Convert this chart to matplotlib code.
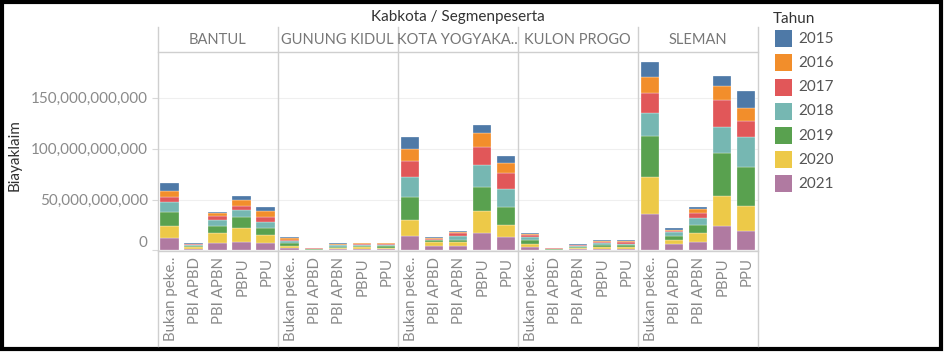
import matplotlib
matplotlib.use("Agg")
import matplotlib.pyplot as plt
from matplotlib.patches import Rectangle
from matplotlib.lines import Line2D

plt.rcParams['font.family'] = ['Lato', 'DejaVu Sans']

# data (billions of rupiah), order: kabkota x segmen
kabkota = ['BANTUL', 'GUNUNG KIDUL', 'KOTA YOGYAKA..', 'KULON PROGO', 'SLEMAN']
segmen = ['Bukan peke..', 'PBI APBD', 'PBI APBN', 'PBPU', 'PPU']
tahun = ['2015', '2016', '2017', '2018', '2019', '2020', '2021']

y2021 = [12.5, 1.5, 6.9, 8.8, 6.9,   2.5, 0.4, 1.2, 1.5, 1.5,   14.0, 4.0, 4.0, 17.3, 13.0,
         3.0, 0.5, 1.2, 1.8, 1.8,   35.9, 5.9, 8.2, 23.8, 19.6]
y2020 = [11.5, 1.5, 9.8, 13.0, 8.5,  2.0, 0.4, 1.2, 1.5, 1.4,   16.3, 4.0, 4.3, 21.6, 12.0,
         3.0, 0.4, 1.2, 1.5, 1.5,   36.3, 3.9, 9.1, 30.0, 24.5]
y2019 = [13.5, 1.5, 7.2, 11.4, 6.5,  2.5, 0.8, 1.5, 1.5, 1.5,   22.5, 2.0, 1.5, 23.5, 18.0,
         4.3, 0.7, 1.2, 2.5, 2.3,   40.5, 4.2, 7.5, 41.5, 38.2]
y2018 = [9.6, 1.0, 5.6, 6.5, 6.2,    2.0, 0.3, 1.0, 1.0, 1.1,   18.9, 0.5, 4.5, 21.2, 17.0,
         3.0, 0.3, 0.8, 1.2, 1.2,   22.5, 3.9, 7.5, 26.1, 29.4]
y2017 = [5.5, 0.7, 4.2, 4.2, 4.6,    1.5, 0.3, 0.6, 0.8, 0.8,   16.3, 0.5, 2.5, 18.3, 16.3,
         1.8, 0.5, 0.6, 1.2, 1.4,   19.3, 1.6, 4.6, 26.5, 15.7]
y2016 = [6.1, 0.6, 3.3, 5.6, 6.2,    1.5, 0.3, 0.6, 0.8, 0.8,   11.8, 1.5, 1.8, 13.0, 9.8,
         0.8, 0.4, 0.6, 0.8, 0.9,   16.0, 0.8, 3.6, 13.7, 12.0]
y2015 = [7.5, 0.4, 1.0, 4.2, 3.3,    1.4, 0.1, 0.8, 0.7, 0.7,   11.8, 0.3, 1.0, 8.5, 6.2,
         1.2, 0.1, 0.6, 0.8, 0.7,   14.0, 1.3, 2.0, 9.1, 17.3]

warna = {'2015': '#4e79a7', '2016': '#f28e2b', '2017': '#e15759', '2018': '#76b7b2',
         '2019': '#59a14f', '2020': '#edc948', '2021': '#b07aa1'}

# bottom to top stacking
stack = [('2021', y2021), ('2020', y2020), ('2019', y2019), ('2018', y2018),
         ('2017', y2017), ('2016', y2016), ('2015', y2015)]

W, H = 944, 352
fig = plt.figure(figsize=(W / 100, H / 100), dpi=100)


def fx(x):
    return x / W


def fy(y):
    return 1 - y / H


line_c = '#cfcfcf'
x0, pw = 157.5, 120.1
top_y, bot_y = 52.5, 251.0

axes = []
for i, kab in enumerate(kabkota):
    ax = fig.add_axes([fx(x0 + i * pw), fy(bot_y), pw / W, (bot_y - top_y) / H])
    xs = list(range(len(segmen)))
    bottom = [0.0] * len(segmen)
    for th, vals in stack:
        v = [vals[i * 5 + j] * 1e9 for j in xs]
        ax.bar(xs, v, bottom=bottom, width=0.76, color=warna[th],
               edgecolor='white', linewidth=0.2)
        bottom = [b + a for b, a in zip(bottom, v)]
    ax.set_xlim(-0.5, 4.5)
    ax.set_ylim(-0.5e9, 194.2e9)
    ax.set_yticks([0, 50e9, 100e9, 150e9])
    ax.grid(axis='y', color='#efefef', linewidth=0.8)
    ax.set_axisbelow(True)
    for s in ax.spines.values():
        s.set_visible(False)
    ax.set_xticks([])
    if i == 0:
        ax.set_yticklabels(['0', '50,000,000,000', '100,000,000,000', '150,000,000,000'])
        ax.tick_params(axis='y', length=4, color='#d8d8d8', labelcolor='#8a8a8a',
                       labelsize=11, pad=3)
        ax.get_yticklabels()[0].set_va('bottom')
    else:
        ax.tick_params(axis='y', length=0, labelleft=False)
    axes.append(ax)

    # segment labels
    for j, seg in enumerate(segmen):
        cx = x0 + i * pw + (j + 0.5) * pw / 5 + 1
        fig.text(fx(cx), fy(257), seg, rotation=90, ha='center', va='top',
                 fontsize=10.8, color='#8a8a8a')
    # header
    fig.text(fx(x0 + (i + 0.5) * pw), fy(40), kab, ha='center', va='center',
             fontsize=10.5, color='#777777')

# frame lines
for i in range(len(kabkota) + 1):
    xx = fx(x0 + i * pw)
    fig.add_artist(Line2D([xx, xx], [fy(26.7), fy(346)], color=line_c, lw=1))
fig.add_artist(Line2D([fx(x0), fx(x0 + 5 * pw)], [fy(52.3), fy(52.3)], color=line_c, lw=1))
fig.add_artist(Line2D([fx(x0), fx(x0 + 5 * pw)], [fy(250.8), fy(250.8)], color=line_c, lw=1))

fig.text(fx(457.7), fy(17), 'Kabkota / Segmenpeserta', ha='center', va='center',
         fontsize=11, color='#333333')
fig.text(fx(15), fy(155), 'Biayaklaim', rotation=90, ha='center', va='center',
         fontsize=11, color='#333333')

# legend
fig.text(fx(773), fy(19), 'Tahun', ha='left', va='center', fontsize=11, color='#333333')
for k, th in enumerate(tahun):
    cy = 38.7 + k * 24.2
    fig.add_artist(Rectangle((fx(775), fy(cy + 8.5)), 17 / W, 17 / H,
                             facecolor=warna[th], edgecolor='none'))
    fig.text(fx(798), fy(cy), th, ha='left', va='center', fontsize=11, color='#555555')

# outer black border
fig.add_artist(Rectangle((fx(1.8), fy(349)), (941 - 1.8) / W, (349 - 1.8) / H,
                         fill=False, edgecolor='black', linewidth=3))

fig.savefig('out.png', dpi=100, facecolor='white')
